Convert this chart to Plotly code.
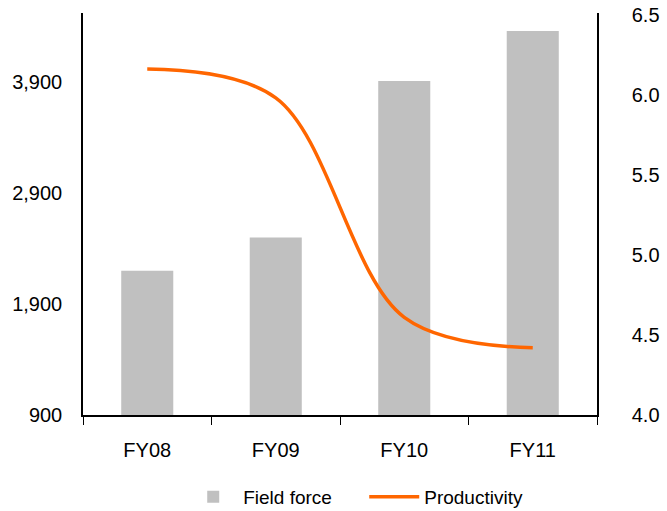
import plotly.graph_objects as go

categories = ["FY08", "FY09", "FY10", "FY11"]
field_force = [2200, 2500, 3910, 4360]
productivity = [6.16, 5.98, 4.61, 4.42]
left_ticks = [900, 1900, 2900, 3900]
left_tick_text = ["900", "1,900", "2,900", "3,900"]
right_ticks = [4.0, 4.5, 5.0, 5.5, 6.0, 6.5]

FONT = "Liberation Sans, Arial, sans-serif"

fig = go.Figure()
fig.add_trace(go.Bar(
    x=categories, y=field_force, name="Field force",
    marker=dict(color="#C0C0C0", line=dict(width=0)),
    width=0.405, yaxis="y",
))
fig.add_trace(go.Scatter(
    x=categories, y=productivity, name="Productivity",
    mode="lines", line=dict(color="#FF6600", width=3.5, shape="spline", smoothing=1.0),
    yaxis="y2",
))

fig.update_layout(
    width=667, height=511,
    margin=dict(l=83, r=70, t=13, b=96, autoexpand=False),
    paper_bgcolor="white", plot_bgcolor="white",
    font=dict(family=FONT, size=20, color="#000000"),
    showlegend=True,
    legend=dict(orientation="h", x=0.195, xanchor="left", y=-0.204, yanchor="middle",
                font=dict(size=19), itemwidth=50, entrywidth=116, traceorder="normal"),
    xaxis=dict(
        type="category", showline=True, linecolor="#000000", linewidth=1.5,
        ticks="outside", tickson="boundaries", ticklen=8, tickcolor="#000000",
        showgrid=False, zeroline=False, ticklabelstandoff=16, automargin=False,
        range=[-0.5, 3.5],
    ),
    yaxis=dict(
        range=[900, 4522], tickvals=left_ticks, ticktext=left_tick_text,
        showline=True, linecolor="#000000", linewidth=1.5, ticks="",
        showgrid=False, zeroline=False, ticklabelstandoff=15, automargin=False,
    ),
    yaxis2=dict(
        overlaying="y", side="right", range=[4.0, 6.51], tickvals=right_ticks,
        tickformat=".1f", showline=True, linecolor="#000000", linewidth=1.5,
        ticks="", showgrid=False, zeroline=False, ticklabelstandoff=29, automargin=False,
        ticklabeloverflow="allow",
    ),
)

# Remove the default 8px page margin so the 667x511 figure fills the window.
fig.write_html(
    "out.html",
    config={"displayModeBar": False},
    post_script="document.body.style.margin='0';",
)
